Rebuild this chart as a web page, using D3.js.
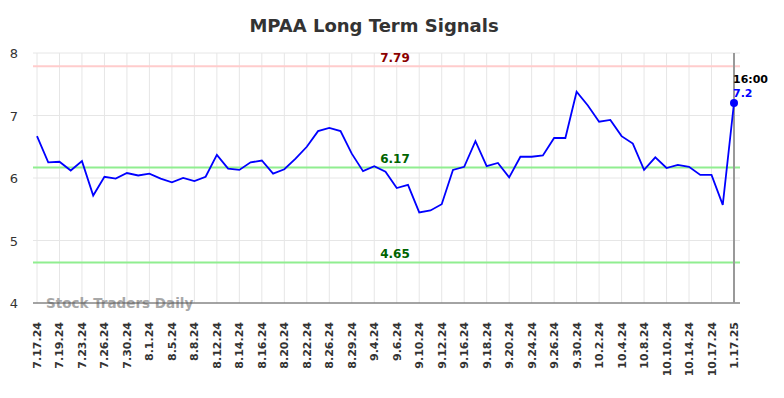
<!DOCTYPE html>
<html>
<head>
<meta charset="utf-8">
<script src="https://cdn.jsdelivr.net/npm/d3@7"></script>
<style>
  body { margin: 0; background: #fff; }
  svg { display: block; font-family: "DejaVu Sans", sans-serif; }
</style>
</head>
<body>
<div id="chart"></div>
<script>
// tick labels (one for every second point)
const tickLabels = ["7.17.24", "7.19.24", "7.23.24", "7.26.24", "7.30.24", "8.1.24", "8.5.24", "8.8.24",
    "8.12.24", "8.14.24", "8.16.24", "8.20.24", "8.22.24", "8.26.24", "8.29.24", "9.4.24",
    "9.6.24", "9.10.24", "9.12.24", "9.16.24", "9.18.24", "9.20.24", "9.24.24", "9.26.24",
    "9.30.24", "10.2.24", "10.4.24", "10.8.24", "10.10.24", "10.14.24", "10.17.24", "1.17.25"];

// closing values
const values = [6.67, 6.25, 6.26, 6.12, 6.27, 5.72, 6.02, 5.99, 6.08, 6.04,
    6.07, 5.99, 5.93, 6.00, 5.95, 6.02, 6.37, 6.15, 6.13, 6.25,
    6.28, 6.07, 6.14, 6.31, 6.50, 6.75, 6.80, 6.75, 6.39, 6.11,
    6.19, 6.10, 5.84, 5.89, 5.45, 5.48, 5.58, 6.13, 6.18, 6.59,
    6.19, 6.24, 6.01, 6.34, 6.34, 6.36, 6.64, 6.64, 7.38, 7.16,
    6.90, 6.93, 6.67, 6.55, 6.13, 6.33, 6.16, 6.21, 6.18, 6.05,
    6.05, 5.57, 7.20];

const yTicks = [4, 5, 6, 7, 8];
const signals = [
    { value: 7.79, line: "#ffcccc", text: "#8b0000" },
    { value: 6.17, line: "#90ee90", text: "#006400" },
    { value: 4.65, line: "#90ee90", text: "#006400" }
];
const lastTime = "16:00";

const width = 784, height = 398;
const margin = { top: 53, right: 50, bottom: 95, left: 33 };

const svg = d3.select("#chart").append("svg")
    .attr("width", width)
    .attr("height", height);

const x = d3.scaleLinear()
    .domain([0, values.length - 1])
    .range([37, 734]);

const y = d3.scaleLinear()
    .domain([4, 8])
    .range([height - margin.bottom, margin.top]);

const gridRight = 740;

// horizontal grid
svg.append("g")
    .selectAll("line")
    .data(yTicks)
    .join("line")
    .attr("x1", margin.left)
    .attr("x2", gridRight)
    .attr("y1", d => y(d))
    .attr("y2", d => y(d))
    .attr("stroke", "#e6e6e6")
    .attr("stroke-width", 1);

// vertical grid, one per tick label
const tickIdx = tickLabels.map((d, i) => i * 2);
svg.append("g")
    .selectAll("line")
    .data(tickIdx)
    .join("line")
    .attr("x1", d => x(d))
    .attr("x2", d => x(d))
    .attr("y1", margin.top)
    .attr("y2", y(4))
    .attr("stroke", "#e6e6e6")
    .attr("stroke-width", 1);

// y labels
svg.append("g")
    .selectAll("text")
    .data(yTicks)
    .join("text")
    .attr("x", 18)
    .attr("y", d => y(d) + 5)
    .attr("text-anchor", "end")
    .style("font-size", "13px")
    .style("fill", "#333")
    .text(d => d);

// x labels
svg.append("g")
    .selectAll("text")
    .data(tickLabels)
    .join("text")
    .attr("transform", (d, i) => `translate(${x(i * 2) + 4},${y(4) + 19}) rotate(-90)`)
    .attr("text-anchor", "end")
    .style("font-size", "11px")
    .style("font-weight", "bold")
    .style("fill", "#333")
    .text(d => d);

// signal lines
signals.forEach(s => {
    svg.append("line")
        .attr("x1", margin.left)
        .attr("x2", gridRight)
        .attr("y1", y(s.value))
        .attr("y2", y(s.value))
        .attr("stroke", s.line)
        .attr("stroke-width", 2);
    svg.append("text")
        .attr("x", 395)
        .attr("y", y(s.value) - 4)
        .attr("text-anchor", "middle")
        .style("font-size", "12px")
        .style("font-weight", "bold")
        .style("fill", s.text)
        .text(s.value.toFixed(2));
});

// watermark
svg.append("text")
    .attr("x", 46)
    .attr("y", 308)
    .style("font-size", "13.5px")
    .style("font-weight", "bold")
    .style("fill", "#999")
    .style("opacity", 0.85)
    .text("Stock Traders Daily");

// bottom axis line
svg.append("line")
    .attr("x1", margin.left)
    .attr("x2", gridRight)
    .attr("y1", y(4))
    .attr("y2", y(4))
    .attr("stroke", "#555")
    .attr("stroke-width", 1);

// marker for the last point
const last = values.length - 1;
svg.append("line")
    .attr("x1", x(last))
    .attr("x2", x(last))
    .attr("y1", margin.top)
    .attr("y2", y(4))
    .attr("stroke", "#999")
    .attr("stroke-width", 2);

// price line
svg.append("path")
    .datum(values)
    .attr("fill", "none")
    .attr("stroke", "#0000ff")
    .attr("stroke-width", 1.8)
    .attr("d", d3.line().x((d, i) => x(i)).y(d => y(d)));

svg.append("circle")
    .attr("cx", x(last))
    .attr("cy", y(values[last]))
    .attr("r", 4)
    .attr("fill", "#0000ff");

svg.append("text")
    .attr("x", x(last) - 1)
    .attr("y", 83)
    .style("font-size", "11px")
    .style("font-weight", "bold")
    .style("fill", "#000")
    .text(lastTime);

svg.append("text")
    .attr("x", x(last) - 1)
    .attr("y", 97)
    .style("font-size", "11px")
    .style("font-weight", "bold")
    .style("fill", "#0000ff")
    .text(values[last]);

// title
svg.append("text")
    .attr("x", 374)
    .attr("y", 32)
    .attr("text-anchor", "middle")
    .style("font-size", "18px")
    .style("font-weight", "bold")
    .style("fill", "#333")
    .text("MPAA Long Term Signals");
</script>
</body>
</html>
